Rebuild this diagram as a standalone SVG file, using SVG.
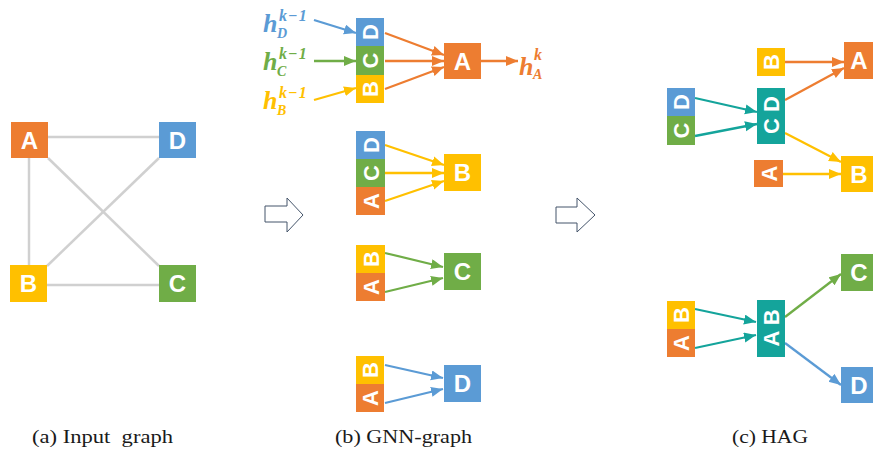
<svg xmlns="http://www.w3.org/2000/svg" width="873" height="450" viewBox="0 0 873 450">
<style>
.t{font-family:"Liberation Sans",Arial,sans-serif;font-weight:bold;font-size:24px;fill:#fff;text-anchor:middle}
.v{font-family:"Liberation Sans",Arial,sans-serif;font-weight:bold;font-size:22px;fill:#fff;text-anchor:middle}
.h{font-family:"Liberation Serif","Times New Roman",serif;font-weight:bold;font-style:italic;font-size:26px}
.sup{font-size:16px}
.sub{font-size:14px}
.cap{font-family:"Liberation Serif","Times New Roman",serif;font-size:19px;fill:#1a1a1a}
.or{fill:#ED7D31}.bl{fill:#5B9BD5}.gr{fill:#70AD47}.ye{fill:#FFC000}.te{fill:#14A49B}
.edge{stroke:#D0D0D0;stroke-width:2.5;fill:none}
.a{stroke-width:2.3;fill:none}
.ao{stroke:#ED7D31}.ab{stroke:#5B9BD5}.ag{stroke:#70AD47}.ay{stroke:#FFC000}.at{stroke:#14A49B}
.block{fill:#fff;stroke:#44546A;stroke-width:1}
</style>
<defs>
<marker id="mo" markerUnits="userSpaceOnUse" markerWidth="13" markerHeight="11" refX="12" refY="5" orient="auto"><path d="M0,0 L12,5 L0,10 z" fill="#ED7D31"/></marker>
<marker id="mb" markerUnits="userSpaceOnUse" markerWidth="13" markerHeight="11" refX="12" refY="5" orient="auto"><path d="M0,0 L12,5 L0,10 z" fill="#5B9BD5"/></marker>
<marker id="mg" markerUnits="userSpaceOnUse" markerWidth="13" markerHeight="11" refX="12" refY="5" orient="auto"><path d="M0,0 L12,5 L0,10 z" fill="#70AD47"/></marker>
<marker id="my" markerUnits="userSpaceOnUse" markerWidth="13" markerHeight="11" refX="12" refY="5" orient="auto"><path d="M0,0 L12,5 L0,10 z" fill="#FFC000"/></marker>
<marker id="mt" markerUnits="userSpaceOnUse" markerWidth="13" markerHeight="11" refX="12" refY="5" orient="auto"><path d="M0,0 L12,5 L0,10 z" fill="#14A49B"/></marker>
</defs>
<rect width="873" height="450" fill="#fff"/>

<!-- connectors -->
<g id="connectors">
  <g id="input-edges">
    <line class="edge" x1="48" y1="137" x2="159" y2="137"/>
    <line class="edge" x1="29" y1="158" x2="29" y2="265"/>
    <line class="edge" x1="47" y1="285" x2="159" y2="285"/>
    <line class="edge" x1="48" y1="158" x2="159" y2="266"/>
    <line class="edge" x1="159" y1="158" x2="47" y2="266"/>
  </g>
  <g id="gnn-arrows">
    <line class="a ab" x1="314" y1="20" x2="356" y2="33" marker-end="url(#mb)"/>
    <line class="a ag" x1="314" y1="61" x2="356" y2="61" marker-end="url(#mg)"/>
    <line class="a ay" x1="314" y1="100" x2="356" y2="88" marker-end="url(#my)"/>
    <line class="a ao" x1="385" y1="33" x2="444" y2="55" marker-end="url(#mo)"/>
    <line class="a ao" x1="385" y1="61" x2="444" y2="61" marker-end="url(#mo)"/>
    <line class="a ao" x1="385" y1="89" x2="444" y2="67" marker-end="url(#mo)"/>
    <line class="a ao" x1="481" y1="61" x2="518" y2="61" marker-end="url(#mo)"/>
    <line class="a ay" x1="385" y1="145" x2="444" y2="165" marker-end="url(#my)"/>
    <line class="a ay" x1="385" y1="173" x2="444" y2="173" marker-end="url(#my)"/>
    <line class="a ay" x1="385" y1="201" x2="444" y2="181" marker-end="url(#my)"/>
    <line class="a ag" x1="385" y1="253" x2="443" y2="267" marker-end="url(#mg)"/>
    <line class="a ag" x1="385" y1="292" x2="443" y2="278" marker-end="url(#mg)"/>
    <line class="a ab" x1="385" y1="365" x2="443" y2="378" marker-end="url(#mb)"/>
    <line class="a ab" x1="385" y1="403" x2="443" y2="389" marker-end="url(#mb)"/>
  </g>
  <g id="hag-arrows">
    <line class="a at" x1="695" y1="98" x2="757" y2="112" marker-end="url(#mt)"/>
    <line class="a at" x1="695" y1="136" x2="757" y2="124" marker-end="url(#mt)"/>
    <line class="a ao" x1="785" y1="62" x2="844" y2="62" marker-end="url(#mo)"/>
    <line class="a ao" x1="785" y1="100" x2="844" y2="68" marker-end="url(#mo)"/>
    <line class="a ay" x1="785" y1="133" x2="841" y2="162" marker-end="url(#my)"/>
    <line class="a ay" x1="783" y1="174" x2="841" y2="174" marker-end="url(#my)"/>
    <line class="a at" x1="695" y1="309" x2="756" y2="322" marker-end="url(#mt)"/>
    <line class="a at" x1="695" y1="348" x2="756" y2="335" marker-end="url(#mt)"/>
    <line class="a ag" x1="785" y1="317" x2="841" y2="274" marker-end="url(#mg)"/>
    <line class="a ab" x1="785" y1="343" x2="841" y2="385" marker-end="url(#mb)"/>
  </g>
  <polygon class="block" points="265,206 287,206 287,198 303,215 287,232 287,222 265,222"/>
  <polygon class="block" points="556,207 577,207 577,198 595,215 577,232 577,223 556,223"/>
</g>

<!-- (a) input graph -->
<g id="in-A"><rect class="or" x="11" y="122" width="37" height="36"/><text class="t" x="29.5" y="148.6">A</text></g>
<g id="in-D"><rect class="bl" x="159" y="122" width="37" height="36"/><text class="t" x="177.5" y="148.6">D</text></g>
<g id="in-B"><rect class="ye" x="10" y="265" width="37" height="37"/><text class="t" x="28.5" y="292">B</text></g>
<g id="in-C"><rect class="gr" x="159" y="265" width="37" height="37"/><text class="t" x="177.5" y="292">C</text></g>

<!-- (b) GNN graph -->
<g id="h-D"><text class="h bl" x="263" y="32">h<tspan class="sup" x="279" y="20.5" letter-spacing="1">k−1</tspan><tspan class="sub" x="277" y="38">D</tspan></text></g>
<g id="h-C"><text class="h gr" x="263" y="70">h<tspan class="sup" x="279" y="58.5" letter-spacing="1">k−1</tspan><tspan class="sub" x="277" y="76">C</tspan></text></g>
<g id="h-B"><text class="h ye" x="263" y="109">h<tspan class="sup" x="279" y="97.5" letter-spacing="1">k−1</tspan><tspan class="sub" x="277" y="115">B</tspan></text></g>
<g id="h-A"><text class="h or" x="519" y="75">h<tspan class="sup" x="534" y="60">k</tspan><tspan class="sub" x="533" y="79">A</tspan></text></g>

<g id="gnn-A-in">
  <rect class="bl" x="356" y="18" width="28" height="28"/><text class="v" x="370" y="40" transform="rotate(-90 370 32)">D</text>
  <rect class="gr" x="356" y="46" width="28" height="29"/><text class="v" x="370" y="68.5" transform="rotate(-90 370 60.5)">C</text>
  <rect class="ye" x="356" y="75" width="28" height="28"/><text class="v" x="370" y="97" transform="rotate(-90 370 89)">B</text>
</g>
<g id="gnn-A"><rect class="or" x="444" y="43" width="37" height="36"/><text class="t" x="462.5" y="69.6">A</text></g>

<g id="gnn-B-in">
  <rect class="bl" x="356" y="131" width="29" height="28"/><text class="v" x="370.5" y="153" transform="rotate(-90 370.5 145)">D</text>
  <rect class="gr" x="356" y="159" width="29" height="28"/><text class="v" x="370.5" y="181" transform="rotate(-90 370.5 173)">C</text>
  <rect class="or" x="356" y="187" width="29" height="28"/><text class="v" x="370.5" y="209" transform="rotate(-90 370.5 201)">A</text>
</g>
<g id="gnn-B"><rect class="ye" x="444" y="154" width="37" height="37"/><text class="t" x="462.5" y="181">B</text></g>

<g id="gnn-C-in">
  <rect class="ye" x="356" y="245" width="29" height="28"/><text class="v" x="370.5" y="267" transform="rotate(-90 370.5 259)">B</text>
  <rect class="or" x="356" y="273" width="29" height="28"/><text class="v" x="370.5" y="295" transform="rotate(-90 370.5 287)">A</text>
</g>
<g id="gnn-C"><rect class="gr" x="444" y="253" width="37" height="37"/><text class="t" x="462.5" y="280">C</text></g>

<g id="gnn-D-in">
  <rect class="ye" x="356" y="356" width="28" height="28"/><text class="v" x="370" y="378" transform="rotate(-90 370 370)">B</text>
  <rect class="or" x="356" y="384" width="28" height="28"/><text class="v" x="370" y="406" transform="rotate(-90 370 398)">A</text>
</g>
<g id="gnn-D"><rect class="bl" x="444" y="365" width="37" height="37"/><text class="t" x="462.5" y="392">D</text></g>

<!-- (c) HAG -->
<g id="hag-CD-in">
  <rect class="bl" x="667" y="88" width="28" height="28"/><text class="v" x="681" y="110" transform="rotate(-90 681 102)">D</text>
  <rect class="gr" x="667" y="116" width="28" height="29"/><text class="v" x="681" y="138.5" transform="rotate(-90 681 130.5)">C</text>
</g>
<g id="hag-CD"><rect class="te" x="757" y="88" width="28" height="56"/><text class="v" x="771" y="123" transform="rotate(-90 771 115)">C D</text></g>
<g id="hag-B-in"><rect class="ye" x="757" y="48" width="28" height="28"/><text class="v" x="771" y="70" transform="rotate(-90 771 62)">B</text></g>
<g id="hag-A-in"><rect class="or" x="754" y="160" width="29" height="27"/><text class="v" x="768.5" y="181.5" transform="rotate(-90 768.5 173.5)">A</text></g>
<g id="hag-A"><rect class="or" x="844" y="42" width="37" height="37"/><text class="t" x="859" y="69">A</text></g>
<g id="hag-B"><rect class="ye" x="841" y="156" width="37" height="36"/><text class="t" x="859" y="182.6">B</text></g>

<g id="hag-AB-in">
  <rect class="ye" x="667" y="301" width="28" height="28"/><text class="v" x="681" y="323" transform="rotate(-90 681 315)">B</text>
  <rect class="or" x="667" y="329" width="28" height="28"/><text class="v" x="681" y="351" transform="rotate(-90 681 343)">A</text>
</g>
<g id="hag-AB"><rect class="te" x="757" y="300" width="28" height="57"/><text class="v" x="771" y="336" transform="rotate(-90 771 328)">A B</text></g>
<g id="hag-C"><rect class="gr" x="841" y="254" width="37" height="37"/><text class="t" x="859" y="281">C</text></g>
<g id="hag-D"><rect class="bl" x="841" y="367" width="37" height="36"/><text class="t" x="859" y="393.6">D</text></g>

<!-- captions -->
<g id="captions">
  <text class="cap" x="32" y="443" textLength="141" lengthAdjust="spacingAndGlyphs" xml:space="preserve">(a) Input  graph</text>
  <text class="cap" x="335" y="443" textLength="137" lengthAdjust="spacingAndGlyphs">(b) GNN-graph</text>
  <text class="cap" x="732" y="443" textLength="76" lengthAdjust="spacingAndGlyphs">(c) HAG</text>
</g>
</svg>
